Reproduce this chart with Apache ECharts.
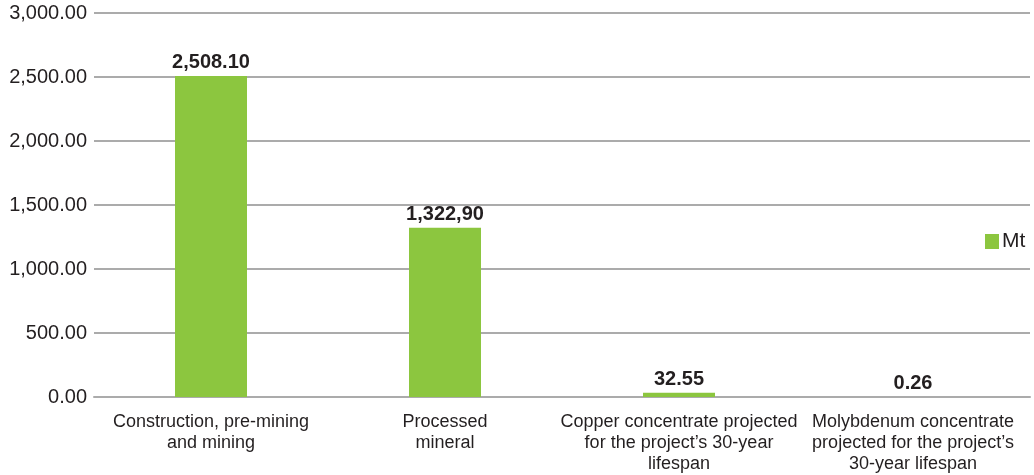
<!DOCTYPE html>
<html>
<head>
<meta charset="utf-8">
<script src="https://cdn.jsdelivr.net/npm/echarts@6/dist/echarts.min.js"></script>
<style>
  html, body { margin: 0; padding: 0; background: #ffffff; }
  #chart { width: 1034px; height: 475px; }
</style>
</head>
<body>
<div id="chart"></div>
<script>
// Material volumes in million tonnes
const categories = [
  'Construction, pre-mining\nand mining',
  'Processed\nmineral',
  'Copper concentrate projected\nfor the project\u2019s 30-year\nlifespan',
  'Molybdenum concentrate\nprojected for the project\u2019s\n30-year lifespan'
];
const values = [2508.10, 1322.90, 32.55, 0.26];
const valueLabels = ['2,508.10', '1,322,90', '32.55', '0.26'];
const seriesName = 'Mt';
const yTicks = { min: 0, max: 3000, interval: 500 };

const FONT = '"Liberation Sans", Arial, Helvetica, sans-serif';
const TEXT = '#231f20';
const GREEN = '#8cc63f';
const GRID = '#ababab';

function fmtTick(v) {
  return v.toLocaleString('en-US', { minimumFractionDigits: 2, maximumFractionDigits: 2 });
}

const chart = echarts.init(document.getElementById('chart'), null, { renderer: 'canvas' });
chart.setOption({
  animation: false,
  backgroundColor: '#ffffff',
  textStyle: { fontFamily: FONT, color: TEXT },
  grid: { left: 94, right: 4, top: 13, bottom: 76, containLabel: false },
  legend: {
    data: [seriesName],
    left: 985,
    top: 231,
    padding: 0,
    icon: 'rect',
    itemWidth: 14,
    itemHeight: 15,
    textStyle: { fontFamily: FONT, fontSize: 21, color: TEXT, padding: [0, 0, 0, -2] }
  },
  xAxis: {
    type: 'category',
    data: categories,
    axisLine: { show: true, lineStyle: { color: GRID, width: 2 } },
    axisTick: { show: false },
    axisLabel: {
      interval: 0,
      margin: 15,
      fontFamily: FONT,
      fontSize: 18,
      lineHeight: 21,
      color: TEXT,
      align: 'center'
    }
  },
  yAxis: {
    type: 'value',
    min: yTicks.min,
    max: yTicks.max,
    interval: yTicks.interval,
    axisLine: { show: false },
    axisTick: { show: false },
    splitLine: { show: true, lineStyle: { color: GRID, width: 2 } },
    axisLabel: {
      margin: 7,
      fontFamily: FONT,
      fontSize: 20,
      color: TEXT,
      formatter: fmtTick
    }
  },
  series: [{
    name: seriesName,
    type: 'bar',
    data: values,
    barWidth: 72,
    itemStyle: { color: GREEN },
    label: {
      show: true,
      position: 'top',
      distance: 3,
      fontFamily: FONT,
      fontSize: 20,
      fontWeight: 'bold',
      color: TEXT,
      formatter: p => valueLabels[p.dataIndex]
    }
  }]
});
</script>
</body>
</html>
